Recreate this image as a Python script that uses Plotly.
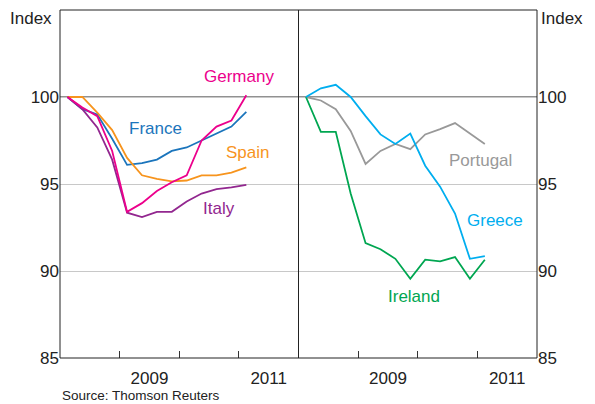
import plotly.graph_objects as go

quarters = ["2008Q1", "2008Q2", "2008Q3", "2008Q4", "2009Q1", "2009Q2", "2009Q3",
            "2009Q4", "2010Q1", "2010Q2", "2010Q3", "2010Q4", "2011Q1"]

germany = [100.0, 99.4, 98.9, 96.9, 93.4, 93.9, 94.6, 95.1, 95.5, 97.5, 98.3, 98.65, 100.1]
france = [100.0, 99.3, 99.0, 97.6, 96.1, 96.2, 96.4, 96.9, 97.1, 97.5, 97.9, 98.3, 99.15]
spain = [100.0, 100.0, 99.1, 98.1, 96.5, 95.5, 95.3, 95.15, 95.2, 95.5, 95.5, 95.65, 95.95]
italy = [100.0, 99.3, 98.25, 96.4, 93.35, 93.1, 93.4, 93.4, 94.0, 94.45, 94.7, 94.8, 94.95]

greece = [100.0, 100.5, 100.7, 100.0, 98.9, 97.85, 97.3, 97.9, 96.05, 94.85, 93.3, 90.7, 90.85]
portugal = [100.0, 99.8, 99.3, 98.05, 96.15, 96.9, 97.3, 97.0, 97.85, 98.15, 98.5, 97.9, 97.3]
ireland = [100.0, 98.0, 98.0, 94.45, 91.6, 91.25, 90.7, 89.55, 90.65, 90.55, 90.8, 89.55, 90.65]

year_ticks = [2008, 2009, 2010, 2011, 2012]
year_labels = ["2009", "2011"]
y_ticks = [85, 90, 95, 100]

x = [int(q[:4]) + (int(q[-1]) - 0.5) / 4 for q in quarters]

FONT = "Liberation Sans, Arial, sans-serif"
colors = {
    "Germany": "#ec008c", "France": "#1b75bc", "Spain": "#f7941d", "Italy": "#92278f",
    "Greece": "#00aeef", "Portugal": "#999999", "Ireland": "#00a651",
}

fig = go.Figure()
for name, vals in [("France", france), ("Spain", spain), ("Italy", italy), ("Germany", germany)]:
    fig.add_trace(go.Scatter(x=x, y=vals, mode="lines", name=name,
                             line=dict(color=colors[name], width=1.8),
                             xaxis="x", yaxis="y", showlegend=False))
for name, vals in [("Portugal", portugal), ("Ireland", ireland), ("Greece", greece)]:
    fig.add_trace(go.Scatter(x=x, y=vals, mode="lines", name=name,
                             line=dict(color=colors[name], width=1.8),
                             xaxis="x2", yaxis="y2", showlegend=False))

xcommon = dict(range=[year_ticks[0], year_ticks[-1]],
               tickvals=[float(v) + 0.5 for v in year_labels], ticktext=year_labels,
               ticks="", showgrid=False, zeroline=False, showline=False,
               ticklabelstandoff=8,
               tickfont=dict(family=FONT, size=17, color="#222"),
               minor=dict(tickvals=year_ticks[1:-1], ticks="inside", ticklen=7,
                          tickcolor="#333", tickwidth=1, showgrid=False))
ycommon = dict(range=[85, 105], tickvals=y_ticks, ticks="", showgrid=True,
               gridcolor="#c8c8c8", gridwidth=1, zeroline=False, showline=False,
               tickfont=dict(family=FONT, size=17, color="#222"))

fig.update_layout(
    width=595, height=404,
    margin=dict(l=60, r=58, t=10, b=46),
    paper_bgcolor="white", plot_bgcolor="white",
    xaxis=dict(domain=[0, 0.5], anchor="y", **xcommon),
    xaxis2=dict(domain=[0.5, 1], anchor="y2", **xcommon),
    yaxis=dict(anchor="x", side="left", **ycommon),
    yaxis2=dict(anchor="x2", side="right", **ycommon),
)

# 100 reference line
fig.add_shape(type="line", xref="paper", yref="y", x0=0, x1=1, y0=100, y1=100,
              line=dict(color="#222", width=1), layer="between")
# frame and divider
fig.add_shape(type="rect", xref="paper", yref="paper", x0=0, x1=1, y0=0, y1=1,
              line=dict(color="#222", width=1))
fig.add_shape(type="line", xref="paper", yref="paper", x0=0.5, x1=0.5, y0=0, y1=1,
              line=dict(color="#222", width=1))

labels = [
    ("Germany", "x", "y", 2011.0, 101.2),
    ("France", "x", "y", 2009.6, 98.2),
    ("Spain", "x", "y", 2011.15, 96.8),
    ("Italy", "x", "y", 2010.67, 93.6),
    ("Portugal", "x2", "y2", 2011.05, 96.35),
    ("Greece", "x2", "y2", 2011.3, 92.9),
    ("Ireland", "x2", "y2", 2009.93, 88.55),
]
for name, xr, yr, xv, yv in labels:
    fig.add_annotation(text=name, xref=xr, yref=yr, x=xv, y=yv, showarrow=False,
                       font=dict(family=FONT, size=17, color=colors[name]))

fig.add_annotation(text="Index", xref="paper", yref="paper", x=0, y=1, xanchor="right",
                   yanchor="top", xshift=-6, yshift=3, showarrow=False,
                   font=dict(family=FONT, size=17, color="#222"))
fig.add_annotation(text="Index", xref="paper", yref="paper", x=1, y=1, xanchor="left",
                   yanchor="top", xshift=2, yshift=3, showarrow=False,
                   font=dict(family=FONT, size=17, color="#222"))
fig.add_annotation(text="Source: Thomson Reuters", xref="paper", yref="paper", x=0, y=-0.108,
                   xanchor="left", yanchor="middle", showarrow=False,
                   font=dict(family=FONT, size=13.5, color="#222"))

fig.write_html("out.html", config={"displayModeBar": False},
               post_script="document.body.style.margin='0';")
